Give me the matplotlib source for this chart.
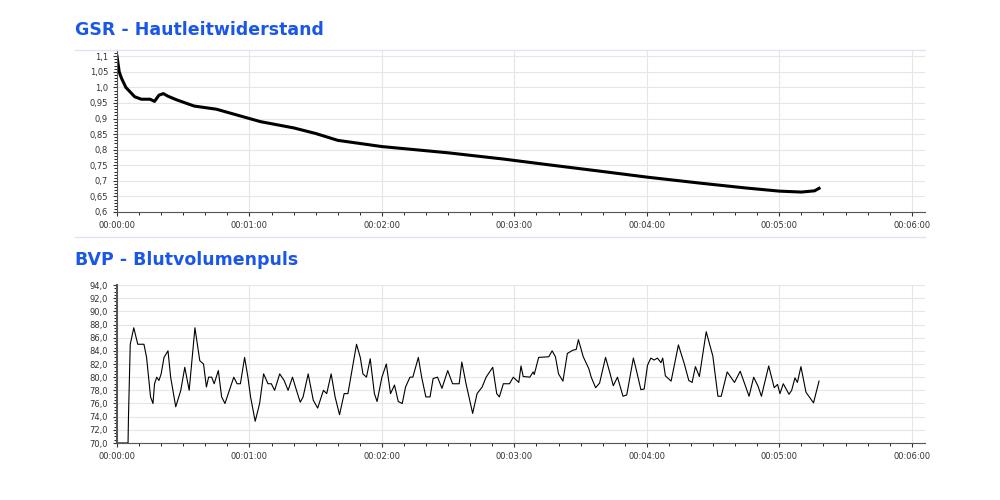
import matplotlib
matplotlib.use("Agg")
import matplotlib.pyplot as plt
from matplotlib.ticker import MultipleLocator, FuncFormatter

gsr_t = [0, 1, 2, 4, 6, 8, 11, 15, 17, 19, 21, 23, 27, 35, 45, 55, 65, 80, 90, 100, 120, 150, 175,
         195, 220, 240, 265, 285, 300, 310, 316, 318]
gsr_v = [1.1, 1.05, 1.03, 1.0, 0.985, 0.97, 0.962, 0.962, 0.955, 0.975, 0.98, 0.972, 0.96, 0.94, 0.93,
         0.91, 0.89, 0.87, 0.852, 0.83, 0.81, 0.79, 0.77, 0.752, 0.73, 0.712, 0.692, 0.677, 0.667,
         0.664, 0.668, 0.676]

bvp_t = [0, 5, 5.2, 6, 7.6, 9.4, 12.2, 13.4, 15.2, 16.3, 17, 18, 19, 20, 21.3, 23.1, 24.3, 26.6, 28.9,
         30.7, 32.7, 35.3, 37.5, 39.2, 40.5, 41.5, 42.9, 44, 45.9, 47.4, 48.9, 50.9, 52.9, 54.4, 55.9,
         57.8, 59.3, 60.5, 62.6, 64.6, 66.4, 68.4, 69.9, 71.4, 73.7, 75.7, 77.5, 79.5, 81.3, 83, 84.3,
         86.6, 88.9, 90.9, 93.5, 95, 97, 98.8, 100.8, 102.9, 104.6, 106.4, 108.5, 110.2, 111.4, 113,
         114.7, 116.6, 117.8, 120, 122, 123.9, 125.7, 127.4, 129.2, 130.7, 132.7, 134, 136.5, 138,
         139.9, 141.8, 143.2, 145.2, 147.2, 149.8, 152, 155, 156.2, 158.1, 161.1, 163.1, 165.4, 167.2,
         170.2, 172, 173.2, 175, 177.8, 179.5, 182, 183, 184, 187, 188.5, 189, 191, 195.6, 197.1,
         198.6, 200, 202, 204, 206.5, 208, 209, 211.2, 213.7, 214.8, 216.8, 218.6, 221.3, 223.3,
         224.8, 226.7, 229.2, 230.9, 233.9, 235.3, 237.3, 238.8, 240.3, 241.8, 243.3, 244.8, 246.4,
         247.2, 248.4, 251, 254.3, 257, 259, 260.5, 262, 263.8, 266.9, 269.9, 272.2, 273.7, 276.4,
         279.7, 282.3, 286.3, 288.4, 290.4, 291.9, 295.2, 297.7, 299.2, 300.3, 301.8, 304.4, 305.6,
         307.1, 308.2, 309.8, 312.1, 315.5, 318]
bvp_v = [70, 70, 74, 85, 87.5, 85, 85, 83, 77, 76, 79, 80, 79.5, 80.5, 83, 84, 80, 75.5, 78, 81.5, 78,
         87.5, 82.5, 82, 78.5, 80, 80, 79, 81, 77, 76, 78, 80, 79, 79, 83, 80, 77, 73.3, 76, 80.5, 79,
         79, 78, 80.5, 79.5, 78, 80, 78, 76.2, 77, 80.5, 76.5, 75.3, 78, 77.5, 80.5, 77, 74.3, 77.5,
         77.5, 81, 85, 83, 80.5, 80, 82.8, 77.5, 76.3, 80, 82, 77.5, 78.8, 76.3, 76, 78.5, 80, 80, 83,
         80, 77, 77, 79.8, 80, 78.3, 81, 79, 79, 82.3, 79, 74.5, 77.5, 78.5, 80, 81.5, 77.5, 77, 79,
         79, 80, 79.2, 81.7, 80.1, 80, 80.8, 80.4, 83, 83.1, 84, 83.1, 80.5, 79.4, 83.6, 84.1, 84.2,
         85.7, 83.1, 81.3, 80, 78.4, 79.1, 83, 80.6, 78.7, 80, 77.1, 77.3, 82.9, 81, 78.1, 78.2, 81.8,
         82.9, 82.6, 82.9, 82.2, 82.9, 80.2, 79.4, 84.9, 82, 79.5, 79.2, 81.6, 80.1, 86.9, 83.2, 77.1,
         77.1, 80.8, 79.2, 80.9, 77.1, 80, 78.6, 77.1, 81.7, 78.4, 78.9, 77.5, 79, 77.4, 78, 79.9, 79.2,
         81.6, 77.7, 76.1, 79.4]

fig = plt.figure(figsize=(10, 5), dpi=100)
blue = "#1a56e8"
fig.text(0.075, 0.94, "GSR - Hautleitwiderstand", color=blue, fontsize=12.5, fontweight="bold", va="center")
fig.text(0.075, 0.48, "BVP - Blutvolumenpuls", color=blue, fontsize=12.5, fontweight="bold", va="center")
for y in [0.9, 0.526]:
    fig.add_artist(plt.Line2D([0.075, 0.925], [y, y], color="#dde6f0", lw=1))

def tfmt(x, p):
    s = int(round(x))
    return "%02d:%02d:%02d" % (s // 3600, (s // 60) % 60, s % 60)

def style(ax):
    for s in ["top", "right"]:
        ax.spines[s].set_visible(False)
    for s in ["left", "bottom"]:
        ax.spines[s].set_color("#555555")
    ax.xaxis.set_major_locator(MultipleLocator(60))
    ax.xaxis.set_minor_locator(MultipleLocator(10))
    ax.xaxis.set_major_formatter(FuncFormatter(tfmt))
    ax.tick_params(labelsize=6, colors="#333333", length=3)
    ax.tick_params(which="minor", length=2)
    ax.grid(True, color="#e6e6e6", lw=0.8)
    ax.set_axisbelow(True)

ax1 = fig.add_axes([0.117, 0.576, 0.808, 0.324])
ax1.plot(gsr_t, gsr_v, color="black", lw=2.2)
ax1.set_xlim(0, 366)
ax1.set_ylim(0.6, 1.12)
ax1.yaxis.set_major_locator(MultipleLocator(0.05))
ax1.yaxis.set_minor_locator(MultipleLocator(0.01))
ax1.yaxis.set_major_formatter(FuncFormatter(lambda v, p: ("%g" % round(v, 2)).replace(".", ",") if abs(v - 1) > 1e-9 else "1,0"))
style(ax1)

ax2 = fig.add_axes([0.117, 0.114, 0.808, 0.316])
ax2.plot(bvp_t, bvp_v, color="black", lw=0.8)
ax2.set_xlim(0, 366)
ax2.set_ylim(70, 94)
ax2.yaxis.set_major_locator(MultipleLocator(2))
ax2.yaxis.set_minor_locator(MultipleLocator(0.5))
ax2.yaxis.set_major_formatter(FuncFormatter(lambda v, p: ("%.1f" % v).replace(".", ",")))
style(ax2)
ax2.spines["left"].set_linewidth(1.5)

fig.savefig("out.png", dpi=100)
